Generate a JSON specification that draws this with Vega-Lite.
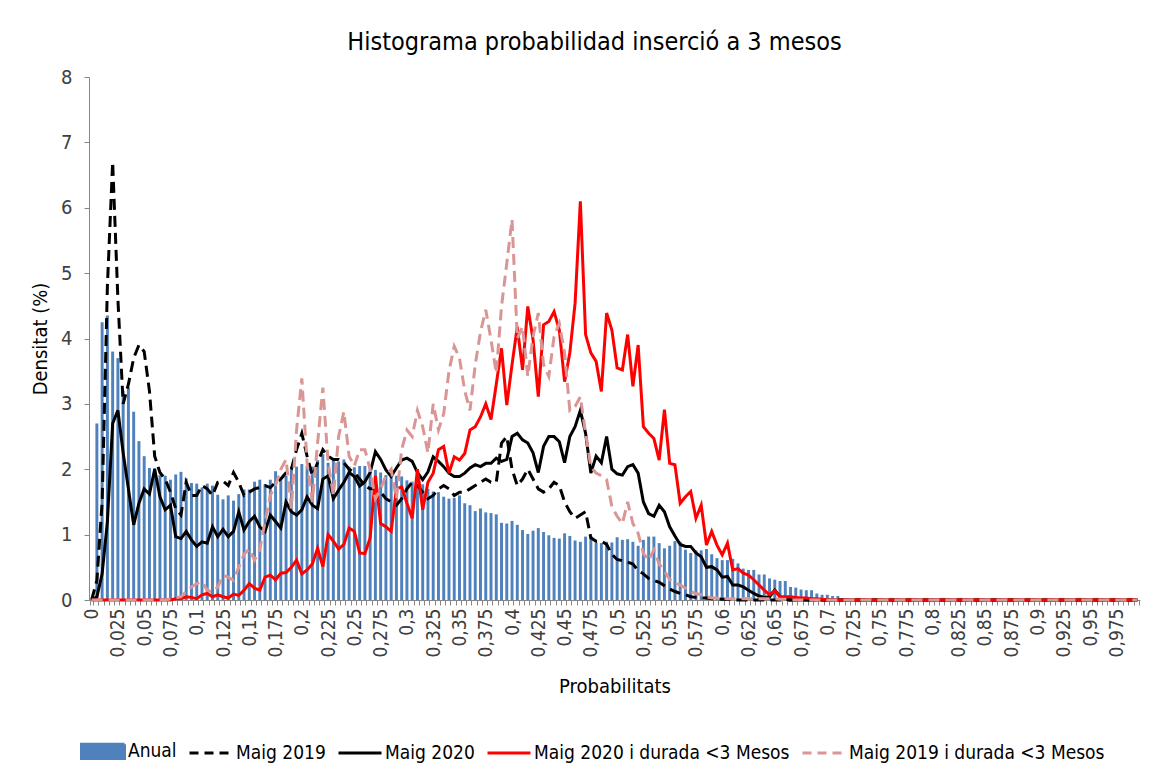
{
"$schema": "https://vega.github.io/schema/vega-lite/v6.json",
"width": 1051, "height": 523,
"autosize": "none",
"padding": {"left": 89, "top": 77, "right": 33, "bottom": 174},
"background": "white",
"config": {"font": "DejaVu Sans Condensed, Liberation Sans Narrow, sans-serif", "view": {"stroke": null}},
"title": {"text": "Histograma probabilidad inserció a 3 mesos", "fontSize": 25, "fontWeight": "normal", "color": "#000000", "anchor": "middle", "dx": -20, "offset": 12},
"data": {"values": [
{"p":0,"anual":0,"m19":0,"m20":0,"m20d":0,"m19d":0},
{"p":0.005,"anual":2.7,"m19":0.3,"m20":0.05,"m20d":0,"m19d":0},
{"p":0.01,"anual":4.25,"m19":1.5,"m20":0.4,"m20d":0,"m19d":0},
{"p":0.015,"anual":4.35,"m19":4.8,"m20":1.2,"m20d":0,"m19d":0},
{"p":0.02,"anual":3.8,"m19":6.7,"m20":2.7,"m20d":0,"m19d":0},
{"p":0.025,"anual":3.7,"m19":4.6,"m20":2.9,"m20d":0,"m19d":0},
{"p":0.03,"anual":3.2,"m19":3.0,"m20":2.25,"m20d":0,"m19d":0},
{"p":0.035,"anual":3.25,"m19":3.3,"m20":1.7,"m20d":0,"m19d":0},
{"p":0.04,"anual":2.88,"m19":3.7,"m20":1.15,"m20d":0,"m19d":0},
{"p":0.045,"anual":2.43,"m19":3.9,"m20":1.48,"m20d":0,"m19d":0},
{"p":0.05,"anual":2.2,"m19":3.8,"m20":1.7,"m20d":0,"m19d":0},
{"p":0.055,"anual":2.02,"m19":3.2,"m20":1.62,"m20d":0,"m19d":0},
{"p":0.06,"anual":2.02,"m19":2.2,"m20":2.0,"m20d":0,"m19d":0},
{"p":0.065,"anual":1.91,"m19":1.95,"m20":1.58,"m20d":0,"m19d":0},
{"p":0.07,"anual":1.9,"m19":1.85,"m20":1.38,"m20d":0,"m19d":0},
{"p":0.075,"anual":1.84,"m19":1.65,"m20":1.45,"m20d":0,"m19d":0.02},
{"p":0.08,"anual":1.92,"m19":1.4,"m20":0.97,"m20d":0.02,"m19d":0.03},
{"p":0.085,"anual":1.96,"m19":1.3,"m20":0.94,"m20d":0.02,"m19d":0.05},
{"p":0.09,"anual":1.86,"m19":1.8,"m20":1.05,"m20d":0.05,"m19d":0.13},
{"p":0.095,"anual":1.79,"m19":1.6,"m20":0.92,"m20d":0.04,"m19d":0.2},
{"p":0.1,"anual":1.78,"m19":1.6,"m20":0.82,"m20d":0.02,"m19d":0.25},
{"p":0.105,"anual":1.72,"m19":1.75,"m20":0.89,"m20d":0.08,"m19d":0.28},
{"p":0.11,"anual":1.78,"m19":1.7,"m20":0.87,"m20d":0.1,"m19d":0.15},
{"p":0.115,"anual":1.75,"m19":1.6,"m20":1.12,"m20d":0.05,"m19d":0.12},
{"p":0.12,"anual":1.61,"m19":1.8,"m20":0.97,"m20d":0.08,"m19d":0.2},
{"p":0.125,"anual":1.54,"m19":1.82,"m20":1.08,"m20d":0.05,"m19d":0.38},
{"p":0.13,"anual":1.6,"m19":1.75,"m20":0.97,"m20d":0.03,"m19d":0.35},
{"p":0.135,"anual":1.52,"m19":1.95,"m20":1.05,"m20d":0.09,"m19d":0.3},
{"p":0.14,"anual":1.62,"m19":1.8,"m20":1.35,"m20d":0.07,"m19d":0.5},
{"p":0.145,"anual":1.69,"m19":1.6,"m20":1.07,"m20d":0.15,"m19d":0.7},
{"p":0.15,"anual":1.69,"m19":1.65,"m20":1.2,"m20d":0.25,"m19d":0.78},
{"p":0.155,"anual":1.81,"m19":1.7,"m20":1.28,"m20d":0.18,"m19d":0.61},
{"p":0.16,"anual":1.84,"m19":1.72,"m20":1.12,"m20d":0.15,"m19d":0.77},
{"p":0.165,"anual":1.77,"m19":1.75,"m20":1.05,"m20d":0.35,"m19d":1.2},
{"p":0.17,"anual":1.84,"m19":1.72,"m20":1.3,"m20d":0.38,"m19d":1.6},
{"p":0.175,"anual":1.97,"m19":1.8,"m20":1.2,"m20d":0.31,"m19d":1.75},
{"p":0.18,"anual":1.83,"m19":1.85,"m20":1.1,"m20d":0.41,"m19d":2.0},
{"p":0.185,"anual":1.9,"m19":1.95,"m20":1.5,"m20d":0.42,"m19d":2.15},
{"p":0.19,"anual":2.03,"m19":2.0,"m20":1.35,"m20d":0.5,"m19d":1.4},
{"p":0.195,"anual":2.04,"m19":2.3,"m20":1.3,"m20d":0.61,"m19d":2.6},
{"p":0.2,"anual":2.08,"m19":2.55,"m20":1.38,"m20d":0.4,"m19d":3.39},
{"p":0.205,"anual":2.05,"m19":2.2,"m20":1.58,"m20d":0.46,"m19d":2.1},
{"p":0.21,"anual":2.04,"m19":1.9,"m20":1.45,"m20d":0.55,"m19d":1.5},
{"p":0.215,"anual":2.14,"m19":2.1,"m20":1.4,"m20d":0.79,"m19d":2.4},
{"p":0.22,"anual":2.23,"m19":2.3,"m20":1.85,"m20d":0.51,"m19d":3.25},
{"p":0.225,"anual":2.1,"m19":2.2,"m20":1.9,"m20d":1.0,"m19d":2.1},
{"p":0.23,"anual":2.14,"m19":2.15,"m20":1.55,"m20d":0.9,"m19d":1.6},
{"p":0.235,"anual":2.12,"m19":2.15,"m20":1.68,"m20d":0.78,"m19d":2.5},
{"p":0.24,"anual":2.15,"m19":2.1,"m20":1.8,"m20d":0.85,"m19d":2.88},
{"p":0.245,"anual":2.04,"m19":2.0,"m20":1.95,"m20d":1.1,"m19d":2.2},
{"p":0.25,"anual":2.03,"m19":1.95,"m20":1.89,"m20d":1.05,"m19d":2.05},
{"p":0.255,"anual":2.05,"m19":1.85,"m20":1.74,"m20d":0.72,"m19d":2.3},
{"p":0.26,"anual":2.05,"m19":1.75,"m20":1.81,"m20d":0.71,"m19d":2.3},
{"p":0.265,"anual":2.03,"m19":1.7,"m20":1.95,"m20d":0.95,"m19d":2.0},
{"p":0.27,"anual":1.99,"m19":1.7,"m20":2.27,"m20d":1.9,"m19d":1.55},
{"p":0.275,"anual":1.95,"m19":1.65,"m20":2.15,"m20d":1.17,"m19d":1.7},
{"p":0.28,"anual":1.91,"m19":1.55,"m20":1.99,"m20d":1.12,"m19d":1.9},
{"p":0.285,"anual":1.89,"m19":1.5,"m20":1.89,"m20d":1.05,"m19d":2.0},
{"p":0.29,"anual":1.9,"m19":1.45,"m20":2.02,"m20d":1.7,"m19d":1.55},
{"p":0.295,"anual":1.89,"m19":1.55,"m20":2.14,"m20d":1.73,"m19d":2.3},
{"p":0.3,"anual":1.83,"m19":1.7,"m20":2.17,"m20d":1.48,"m19d":2.6},
{"p":0.305,"anual":1.81,"m19":1.8,"m20":2.12,"m20d":1.25,"m19d":2.5},
{"p":0.31,"anual":1.74,"m19":1.75,"m20":1.95,"m20d":2.0,"m19d":2.9},
{"p":0.315,"anual":1.77,"m19":1.65,"m20":1.84,"m20d":1.38,"m19d":2.65},
{"p":0.32,"anual":1.7,"m19":1.55,"m20":1.96,"m20d":1.8,"m19d":2.25},
{"p":0.325,"anual":1.66,"m19":1.6,"m20":2.19,"m20d":1.94,"m19d":3.0},
{"p":0.33,"anual":1.65,"m19":1.7,"m20":2.12,"m20d":2.3,"m19d":2.6},
{"p":0.335,"anual":1.58,"m19":1.75,"m20":2.04,"m20d":2.35,"m19d":2.85},
{"p":0.34,"anual":1.55,"m19":1.7,"m20":1.94,"m20d":1.94,"m19d":3.5},
{"p":0.345,"anual":1.56,"m19":1.6,"m20":1.89,"m20d":2.19,"m19d":3.88},
{"p":0.35,"anual":1.6,"m19":1.65,"m20":1.89,"m20d":2.14,"m19d":3.7},
{"p":0.355,"anual":1.48,"m19":1.65,"m20":1.94,"m20d":2.24,"m19d":3.2},
{"p":0.36,"anual":1.45,"m19":1.7,"m20":2.02,"m20d":2.6,"m19d":2.9},
{"p":0.365,"anual":1.36,"m19":1.75,"m20":2.07,"m20d":2.65,"m19d":3.6},
{"p":0.37,"anual":1.4,"m19":1.8,"m20":2.04,"m20d":2.8,"m19d":4.1},
{"p":0.375,"anual":1.34,"m19":1.85,"m20":2.09,"m20d":3.0,"m19d":4.44},
{"p":0.38,"anual":1.33,"m19":1.8,"m20":2.09,"m20d":2.76,"m19d":3.98},
{"p":0.385,"anual":1.31,"m19":1.8,"m20":2.17,"m20d":3.3,"m19d":3.47},
{"p":0.39,"anual":1.18,"m19":2.4,"m20":2.12,"m20d":3.85,"m19d":4.49},
{"p":0.395,"anual":1.17,"m19":2.5,"m20":2.15,"m20d":2.98,"m19d":5.15},
{"p":0.4,"anual":1.21,"m19":2.0,"m20":2.5,"m20d":3.6,"m19d":5.82},
{"p":0.405,"anual":1.15,"m19":1.75,"m20":2.55,"m20d":4.18,"m19d":4.0},
{"p":0.41,"anual":1.07,"m19":1.85,"m20":2.45,"m20d":3.52,"m19d":4.18},
{"p":0.415,"anual":1.01,"m19":2.0,"m20":2.4,"m20d":4.49,"m19d":3.42},
{"p":0.42,"anual":1.06,"m19":1.85,"m20":2.25,"m20d":3.98,"m19d":4.03},
{"p":0.425,"anual":1.1,"m19":1.7,"m20":1.95,"m20d":3.11,"m19d":4.39},
{"p":0.43,"anual":1.04,"m19":1.65,"m20":2.35,"m20d":4.21,"m19d":3.6},
{"p":0.435,"anual":0.99,"m19":1.7,"m20":2.5,"m20d":4.26,"m19d":3.42},
{"p":0.44,"anual":0.95,"m19":1.8,"m20":2.5,"m20d":4.41,"m19d":4.03},
{"p":0.445,"anual":0.94,"m19":1.75,"m20":2.42,"m20d":4.13,"m19d":4.23},
{"p":0.45,"anual":1.02,"m19":1.5,"m20":2.1,"m20d":3.34,"m19d":3.78},
{"p":0.455,"anual":0.98,"m19":1.35,"m20":2.5,"m20d":3.78,"m19d":2.9},
{"p":0.46,"anual":0.91,"m19":1.25,"m20":2.65,"m20d":4.54,"m19d":2.96},
{"p":0.465,"anual":0.89,"m19":1.3,"m20":2.9,"m20d":6.1,"m19d":3.11},
{"p":0.47,"anual":0.97,"m19":1.35,"m20":2.55,"m20d":4.06,"m19d":2.55},
{"p":0.475,"anual":0.98,"m19":0.95,"m20":1.94,"m20d":3.78,"m19d":2.04},
{"p":0.48,"anual":0.88,"m19":0.9,"m20":2.2,"m20d":3.65,"m19d":1.94},
{"p":0.485,"anual":0.87,"m19":0.9,"m20":2.1,"m20d":3.19,"m19d":1.9},
{"p":0.49,"anual":0.89,"m19":0.85,"m20":2.5,"m20d":4.39,"m19d":1.84},
{"p":0.495,"anual":0.88,"m19":0.7,"m20":2.0,"m20d":4.13,"m19d":1.43},
{"p":0.5,"anual":0.96,"m19":0.62,"m20":1.93,"m20d":3.55,"m19d":1.28},
{"p":0.505,"anual":0.92,"m19":0.6,"m20":1.91,"m20d":3.52,"m19d":1.17},
{"p":0.51,"anual":0.93,"m19":0.58,"m20":2.04,"m20d":4.06,"m19d":1.5},
{"p":0.515,"anual":0.89,"m19":0.55,"m20":2.07,"m20d":3.27,"m19d":1.17},
{"p":0.52,"anual":0.83,"m19":0.45,"m20":1.94,"m20d":3.9,"m19d":1.02},
{"p":0.525,"anual":0.92,"m19":0.4,"m20":1.5,"m20d":2.65,"m19d":0.71},
{"p":0.53,"anual":0.97,"m19":0.33,"m20":1.32,"m20d":2.55,"m19d":0.61},
{"p":0.535,"anual":0.97,"m19":0.3,"m20":1.28,"m20d":2.47,"m19d":0.77},
{"p":0.54,"anual":0.87,"m19":0.27,"m20":1.45,"m20d":2.14,"m19d":0.55},
{"p":0.545,"anual":0.79,"m19":0.22,"m20":1.35,"m20d":2.91,"m19d":0.45},
{"p":0.55,"anual":0.83,"m19":0.17,"m20":1.12,"m20d":2.09,"m19d":0.31},
{"p":0.555,"anual":0.9,"m19":0.13,"m20":0.98,"m20d":2.07,"m19d":0.26},
{"p":0.56,"anual":0.89,"m19":0.1,"m20":0.85,"m20d":1.48,"m19d":0.23},
{"p":0.565,"anual":0.77,"m19":0.08,"m20":0.82,"m20d":1.58,"m19d":0.18},
{"p":0.57,"anual":0.72,"m19":0.05,"m20":0.82,"m20d":1.66,"m19d":0.13},
{"p":0.575,"anual":0.76,"m19":0.04,"m20":0.72,"m20d":1.25,"m19d":0.1},
{"p":0.58,"anual":0.76,"m19":0.03,"m20":0.66,"m20d":1.45,"m19d":0.08},
{"p":0.585,"anual":0.78,"m19":0.03,"m20":0.5,"m20d":0.84,"m19d":0.05},
{"p":0.59,"anual":0.7,"m19":0.02,"m20":0.51,"m20d":1.05,"m19d":0.03},
{"p":0.595,"anual":0.64,"m19":0.02,"m20":0.46,"m20d":0.84,"m19d":0.03},
{"p":0.6,"anual":0.61,"m19":0.01,"m20":0.35,"m20d":0.69,"m19d":0.03},
{"p":0.605,"anual":0.61,"m19":0.01,"m20":0.36,"m20d":0.87,"m19d":0.02},
{"p":0.61,"anual":0.63,"m19":0,"m20":0.23,"m20d":0.46,"m19d":0.02},
{"p":0.615,"anual":0.56,"m19":0,"m20":0.23,"m20d":0.48,"m19d":0.02},
{"p":0.62,"anual":0.48,"m19":0,"m20":0.2,"m20d":0.41,"m19d":0.02},
{"p":0.625,"anual":0.46,"m19":0,"m20":0.15,"m20d":0.38,"m19d":0.02},
{"p":0.63,"anual":0.46,"m19":0,"m20":0.1,"m20d":0.31,"m19d":0.02},
{"p":0.635,"anual":0.39,"m19":0,"m20":0.06,"m20d":0.23,"m19d":0.02},
{"p":0.64,"anual":0.39,"m19":0,"m20":0.04,"m20d":0.15,"m19d":0.02},
{"p":0.645,"anual":0.33,"m19":0,"m20":0.05,"m20d":0.08,"m19d":0.02},
{"p":0.65,"anual":0.31,"m19":0,"m20":0.15,"m20d":0.14,"m19d":0.02},
{"p":0.655,"anual":0.29,"m19":0,"m20":0.05,"m20d":0.05,"m19d":0.01},
{"p":0.66,"anual":0.29,"m19":0,"m20":0.01,"m20d":0.05,"m19d":0.01},
{"p":0.665,"anual":0.2,"m19":0,"m20":0,"m20d":0.05,"m19d":0},
{"p":0.67,"anual":0.19,"m19":0,"m20":0,"m20d":0.04,"m19d":0},
{"p":0.675,"anual":0.16,"m19":0,"m20":0,"m20d":0.03,"m19d":0},
{"p":0.68,"anual":0.15,"m19":0,"m20":0,"m20d":0.03,"m19d":0},
{"p":0.685,"anual":0.15,"m19":0,"m20":0,"m20d":0.02,"m19d":0},
{"p":0.69,"anual":0.1,"m19":0,"m20":0,"m20d":0.02,"m19d":0},
{"p":0.695,"anual":0.08,"m19":0,"m20":0,"m20d":0.01,"m19d":0},
{"p":0.7,"anual":0.08,"m19":0,"m20":0,"m20d":0,"m19d":0},
{"p":0.705,"anual":0.06,"m19":0,"m20":0,"m20d":0,"m19d":0},
{"p":0.71,"anual":0.06,"m19":0,"m20":0,"m20d":0,"m19d":0},
{"p":0.715,"anual":0.03,"m19":0,"m20":0,"m20d":0,"m19d":0},
{"p":0.72,"anual":0.02,"m19":0,"m20":0,"m20d":0,"m19d":0},
{"p":0.725,"anual":0.01,"m19":0,"m20":0,"m20d":0,"m19d":0},
{"p":0.73,"anual":0,"m19":0,"m20":0,"m20d":0,"m19d":0},
{"p":0.735,"anual":0,"m19":0,"m20":0,"m20d":0,"m19d":0},
{"p":0.74,"anual":0,"m19":0,"m20":0,"m20d":0,"m19d":0},
{"p":0.745,"anual":0,"m19":0,"m20":0,"m20d":0,"m19d":0},
{"p":0.75,"anual":0,"m19":0,"m20":0,"m20d":0,"m19d":0},
{"p":0.755,"anual":0,"m19":0,"m20":0,"m20d":0,"m19d":0},
{"p":0.76,"anual":0,"m19":0,"m20":0,"m20d":0,"m19d":0},
{"p":0.765,"anual":0,"m19":0,"m20":0,"m20d":0,"m19d":0},
{"p":0.77,"anual":0,"m19":0,"m20":0,"m20d":0,"m19d":0},
{"p":0.775,"anual":0,"m19":0,"m20":0,"m20d":0,"m19d":0},
{"p":0.78,"anual":0,"m19":0,"m20":0,"m20d":0,"m19d":0},
{"p":0.785,"anual":0,"m19":0,"m20":0,"m20d":0,"m19d":0},
{"p":0.79,"anual":0,"m19":0,"m20":0,"m20d":0,"m19d":0},
{"p":0.795,"anual":0,"m19":0,"m20":0,"m20d":0,"m19d":0},
{"p":0.8,"anual":0,"m19":0,"m20":0,"m20d":0,"m19d":0},
{"p":0.805,"anual":0,"m19":0,"m20":0,"m20d":0,"m19d":0},
{"p":0.81,"anual":0,"m19":0,"m20":0,"m20d":0,"m19d":0},
{"p":0.815,"anual":0,"m19":0,"m20":0,"m20d":0,"m19d":0},
{"p":0.82,"anual":0,"m19":0,"m20":0,"m20d":0,"m19d":0},
{"p":0.825,"anual":0,"m19":0,"m20":0,"m20d":0,"m19d":0},
{"p":0.83,"anual":0,"m19":0,"m20":0,"m20d":0,"m19d":0},
{"p":0.835,"anual":0,"m19":0,"m20":0,"m20d":0,"m19d":0},
{"p":0.84,"anual":0,"m19":0,"m20":0,"m20d":0,"m19d":0},
{"p":0.845,"anual":0,"m19":0,"m20":0,"m20d":0,"m19d":0},
{"p":0.85,"anual":0,"m19":0,"m20":0,"m20d":0,"m19d":0},
{"p":0.855,"anual":0,"m19":0,"m20":0,"m20d":0,"m19d":0},
{"p":0.86,"anual":0,"m19":0,"m20":0,"m20d":0,"m19d":0},
{"p":0.865,"anual":0,"m19":0,"m20":0,"m20d":0,"m19d":0},
{"p":0.87,"anual":0,"m19":0,"m20":0,"m20d":0,"m19d":0},
{"p":0.875,"anual":0,"m19":0,"m20":0,"m20d":0,"m19d":0},
{"p":0.88,"anual":0,"m19":0,"m20":0,"m20d":0,"m19d":0},
{"p":0.885,"anual":0,"m19":0,"m20":0,"m20d":0,"m19d":0},
{"p":0.89,"anual":0,"m19":0,"m20":0,"m20d":0,"m19d":0},
{"p":0.895,"anual":0,"m19":0,"m20":0,"m20d":0,"m19d":0},
{"p":0.9,"anual":0,"m19":0,"m20":0,"m20d":0,"m19d":0},
{"p":0.905,"anual":0,"m19":0,"m20":0,"m20d":0,"m19d":0},
{"p":0.91,"anual":0,"m19":0,"m20":0,"m20d":0,"m19d":0},
{"p":0.915,"anual":0,"m19":0,"m20":0,"m20d":0,"m19d":0},
{"p":0.92,"anual":0,"m19":0,"m20":0,"m20d":0,"m19d":0},
{"p":0.925,"anual":0,"m19":0,"m20":0,"m20d":0,"m19d":0},
{"p":0.93,"anual":0,"m19":0,"m20":0,"m20d":0,"m19d":0},
{"p":0.935,"anual":0,"m19":0,"m20":0,"m20d":0,"m19d":0},
{"p":0.94,"anual":0,"m19":0,"m20":0,"m20d":0,"m19d":0},
{"p":0.945,"anual":0,"m19":0,"m20":0,"m20d":0,"m19d":0},
{"p":0.95,"anual":0,"m19":0,"m20":0,"m20d":0,"m19d":0},
{"p":0.955,"anual":0,"m19":0,"m20":0,"m20d":0,"m19d":0},
{"p":0.96,"anual":0,"m19":0,"m20":0,"m20d":0,"m19d":0},
{"p":0.965,"anual":0,"m19":0,"m20":0,"m20d":0,"m19d":0},
{"p":0.97,"anual":0,"m19":0,"m20":0,"m20d":0,"m19d":0},
{"p":0.975,"anual":0,"m19":0,"m20":0,"m20d":0,"m19d":0},
{"p":0.98,"anual":0,"m19":0,"m20":0,"m20d":0,"m19d":0},
{"p":0.985,"anual":0,"m19":0,"m20":0,"m20d":0,"m19d":0},
{"p":0.99,"anual":0,"m19":0,"m20":0,"m20d":0,"m19d":0},
{"p":0.995,"anual":0,"m19":0,"m20":0,"m20d":0,"m19d":0}
]},
"transform": [{"fold": ["anual","m19","m20","m20d","m19d"], "as": ["serie","valor"]}],
"encoding": {
  "x": {"field": "p", "type": "ordinal", "sort": "ascending",
        "scale": {"paddingInner": 0.44, "paddingOuter": 0.22},
        "axis": {"title": "Probabilitats", "titleFontSize": 20, "titleFontWeight": "normal", "titleColor": "#000000", "titlePadding": 20,
                 "labelAngle": -90, "labelFontSize": 19, "labelColor": "#404040", "labelPadding": 3, "labelOverlap": false, "labelBound": false,
                 "labelExpr": "round(datum.value*1000) % 25 === 0 ? replace(toString(datum.value), '.', ',') : ''",
                 "tickSize": 5, "tickColor": "#868686", "domainColor": "#868686", "tickBand": "extent", "grid": false}},
  "y": {"field": "valor", "type": "quantitative", "stack": null,
        "scale": {"domain": [0, 8], "nice": false},
        "axis": {"title": "Densitat (%)", "values": [0,1,2,3,4,5,6,7,8], "titleFontSize": 20, "titleFontWeight": "normal", "titleColor": "#000000", "titlePadding": 10,
                 "labelFontSize": 20, "labelColor": "#404040", "labelPadding": 12, "tickSize": 5, "tickColor": "#868686", "domainColor": "#868686", "grid": false}},
  "color": {"field": "serie", "type": "nominal",
        "scale": {"domain": ["anual","m19","m20","m20d","m19d"], "range": ["#4F81BD","#000000","#000000","#FF0000","#D99694"]},
        "legend": {"orient": "none", "legendX": -9, "legendY": 651, "direction": "horizontal", "title": null,
                   "symbolType": "stroke", "symbolSize": 1849, "symbolStrokeWidth": 3,
                   "labelFontSize": 19, "labelColor": "#000000", "labelOffset": 2, "labelLimit": 400, "columnPadding": 6,
                   "labelExpr": "datum.value === 'anual' ? 'Anual' : datum.value === 'm19' ? 'Maig 2019' : datum.value === 'm20' ? 'Maig 2020' : datum.value === 'm20d' ? 'Maig 2020 i durada <3 Mesos' : 'Maig 2019 i durada <3 Mesos'",
                   "encode": {"symbols": {"update": {
                      "shape": {"signal": "datum.value === 'anual' ? 'M-1,-0.33H1V0.33H-1Z' : 'stroke'"},
                      "fill": {"signal": "datum.value === 'anual' ? '#4F81BD' : 'transparent'"},
                      "stroke": {"signal": "datum.value === 'anual' ? 'transparent' : (datum.value === 'm20d' ? '#FF0000' : (datum.value === 'm19d' ? '#D99694' : '#000000'))"},
                      "strokeDash": {"signal": "(datum.value === 'm19' || datum.value === 'm19d') ? [9,6] : [1,0]"},
                      "strokeWidth": {"value": 3},
                      "opacity": {"value": 1}
                   }}}}}
},
"layer": [
  {"transform": [{"filter": "datum.serie === 'anual'"}], "mark": {"type": "bar"}},
  {"transform": [{"filter": "datum.serie === 'm19'"}], "mark": {"type": "line", "strokeWidth": 3, "strokeDash": [11, 6]}},
  {"transform": [{"filter": "datum.serie === 'm20'"}], "mark": {"type": "line", "strokeWidth": 3}},
  {"transform": [{"filter": "datum.serie === 'm20d'"}], "mark": {"type": "line", "strokeWidth": 3}},
  {"transform": [{"filter": "datum.serie === 'm19d'"}], "mark": {"type": "line", "strokeWidth": 3, "strokeDash": [11, 6]}}
]
}
